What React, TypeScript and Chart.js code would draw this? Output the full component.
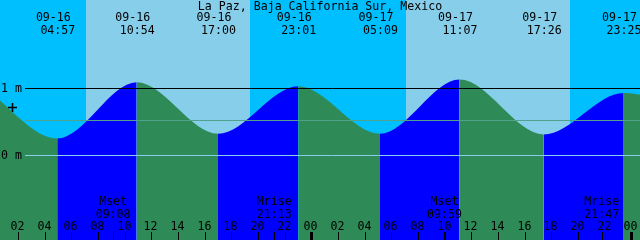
import React, { useEffect, useRef } from "react";
import { Chart, registerables } from "chart.js";

Chart.register(...registerables);

// ---------- data ----------
const title = "La Paz, Baja California Sur, Mexico";

// tide turning points shown on the chart (local time, metres)
const tideDates = ["09-16", "09-16", "09-16", "09-16", "09-17", "09-17", "09-17", "09-17"];
const tideTimes = ["04:57", "10:54", "17:00", "23:01", "05:09", "11:07", "17:26", "23:25"];
const tideHeights = [0.25, 1.09, 0.32, 1.03, 0.32, 1.13, 0.31, 0.93];

// turning points just outside the visible window
const outerDates = ["09-15", "09-18"];
const outerTimes = ["23:24", "06:30"];
const outerHeights = [1.02, 0.45];

// visible window
const windowStart = ["09-16", "00:39"];
const windowEnd = ["09-18", "00:39"];

// daylight
const sunDates = ["09-16", "09-17"];
const sunriseTimes = ["07:06", "07:06"];
const sunsetTimes = ["19:24", "19:24"];

// moon events
const moonDates = ["09-16", "09-16", "09-17", "09-17"];
const moonNames = ["Mset", "Mrise", "Mset", "Mrise"];
const moonTimes = ["09:08", "21:13", "09:59", "21:47"];

// hour ticks (hours after 09-16 00:00) and labels
const hourTickHours = [2, 4, 6, 8, 10, 12, 14, 16, 18, 20, 22, 24, 26, 28, 30, 32, 34, 36, 38, 40, 42, 44, 46, 48];
const hourTickLabels = ["02", "04", "06", "08", "10", "12", "14", "16", "18", "20", "22", "00", "02", "04", "06", "08", "10", "12", "14", "16", "18", "20", "22", "00"];
const midnightHours = [24, 48];

// datum lines (metres)
const levelLines = [1, 0];
const levelLabels = ["1 m", "0 m"];
const meanLevel = 0.53;
const plusMarkHeight = 0.72;

// height axis range (metres)
const yMin = -1.264;
const yMax = 2.318;

// ---------- styling ----------
const NIGHT = "#00BFFF";
const DAY = "#87CEEB";
const RISING = "#0000FF";
const FALLING = "#2E8B57";
const MEAN_COLOR = "rgb(80,162,140)";
const ZERO_COLOR = "#87CEEB";
const FONT = '11.6px "DejaVu Sans Mono", "Liberation Mono", monospace';

function toHours(date: string, time: string): number {
  const day = parseInt(date.split("-")[1], 10);
  const [hh, mm] = time.split(":").map((v) => parseInt(v, 10));
  return (day - 16) * 24 + hh + mm / 60;
}

const overlay = {
  id: "xtideOverlay",
  beforeDraw(chart: any) {
    const { ctx, width, height } = chart;
    const xs = chart.scales.x;
    ctx.save();
    ctx.fillStyle = NIGHT;
    ctx.fillRect(0, 0, width, height);
    ctx.fillStyle = DAY;
    sunDates.forEach((d, i) => {
      const a = Math.round(xs.getPixelForValue(toHours(d, sunriseTimes[i])));
      const b = Math.round(xs.getPixelForValue(toHours(d, sunsetTimes[i])));
      ctx.fillRect(a, 0, b - a, height);
    });
    ctx.restore();
  },
  afterDatasetsDraw(chart: any) {
    const { ctx, width, height } = chart;
    const xs = chart.scales.x;
    const ys = chart.scales.y;
    ctx.save();

    // level lines
    const hline = (v: number, color: string) => {
      const y = Math.round(ys.getPixelForValue(v)) + 0.5;
      ctx.strokeStyle = color;
      ctx.lineWidth = 1;
      ctx.beginPath();
      ctx.moveTo(25, y);
      ctx.lineTo(width, y);
      ctx.stroke();
    };
    hline(meanLevel, MEAN_COLOR);
    hline(levelLines[0], "#000000");
    hline(levelLines[1], ZERO_COLOR);

    ctx.fillStyle = "#000";
    ctx.font = FONT;
    ctx.textBaseline = "alphabetic";

    // level labels
    ctx.textAlign = "left";
    levelLines.forEach((v, i) => {
      const y = Math.round(ys.getPixelForValue(v));
      ctx.fillText(levelLabels[i], 1, y + 4);
    });

    // plus mark
    const py = Math.round(ys.getPixelForValue(plusMarkHeight));
    ctx.strokeStyle = "#000";
    ctx.lineWidth = 1.6;
    ctx.beginPath();
    ctx.moveTo(8, py + 0.5);
    ctx.lineTo(17, py + 0.5);
    ctx.moveTo(12.5, py - 4);
    ctx.lineTo(12.5, py + 5);
    ctx.stroke();

    // title
    ctx.textAlign = "center";
    ctx.fillText(title, width / 2, 10);

    // tide event labels
    tideDates.forEach((d, i) => {
      const x = xs.getPixelForValue(toHours(d, tideTimes[i]));
      ctx.fillText(d, x - 4, 21);
      ctx.fillText(tideTimes[i], x + 0.5, 34);
    });

    // hour ticks + labels
    ctx.lineWidth = 1;
    hourTickHours.forEach((h, i) => {
      const x = Math.round(xs.getPixelForValue(h));
      ctx.fillText(hourTickLabels[i], x - 0.5, 230);
      if (midnightHours.includes(h)) {
        ctx.fillRect(x - 1, 232, 3, height - 232);
      } else {
        ctx.fillRect(x, 232, 1, height - 232);
      }
    });

    // moon events
    moonDates.forEach((d, i) => {
      const t = toHours(d, moonTimes[i]);
      const x = xs.getPixelForValue(t);
      ctx.fillText(moonNames[i], x, 205);
      ctx.fillText(moonTimes[i], x, 218);
      ctx.fillRect(Math.round(x), 232, 1, height - 232);
    });

    ctx.restore();
  },
};

export default function App() {
  const ref = useRef<HTMLCanvasElement>(null);

  useEffect(() => {
    document.body.style.margin = "0";
    const canvas = ref.current;
    if (!canvas) return;

    const points = [
      { x: toHours(outerDates[0], outerTimes[0]), y: outerHeights[0] },
      ...tideDates.map((d, i) => ({ x: toHours(d, tideTimes[i]), y: tideHeights[i] })),
      { x: toHours(outerDates[1], outerTimes[1]), y: outerHeights[1] },
    ];

    const chart = new Chart(canvas, {
      type: "line",
      data: {
        datasets: [
          {
            data: points,
            fill: "start",
            backgroundColor: FALLING,
            borderColor: "rgba(0,0,0,0)",
            borderWidth: 0,
            pointRadius: 0,
            pointHoverRadius: 0,
            cubicInterpolationMode: "monotone",
            segment: {
              backgroundColor: (c: any) => (c.p1.parsed.y > c.p0.parsed.y ? RISING : FALLING),
            },
          } as any,
        ],
      },
      options: {
        responsive: false,
        animation: false,
        devicePixelRatio: 1,
        events: [],
        layout: { padding: 0 },
        plugins: { legend: { display: false }, tooltip: { enabled: false } },
        scales: {
          x: {
            type: "linear",
            display: false,
            min: toHours(windowStart[0], windowStart[1]),
            max: toHours(windowEnd[0], windowEnd[1]),
          },
          y: { type: "linear", display: false, min: yMin, max: yMax },
        },
      },
      plugins: [overlay],
    });
    return () => chart.destroy();
  }, []);

  return (
    <div style={{ position: "absolute", left: 0, top: 0, width: 640, height: 240 }}>
      <canvas ref={ref} width={640} height={240} style={{ display: "block", width: 640, height: 240 }} />
    </div>
  );
}
